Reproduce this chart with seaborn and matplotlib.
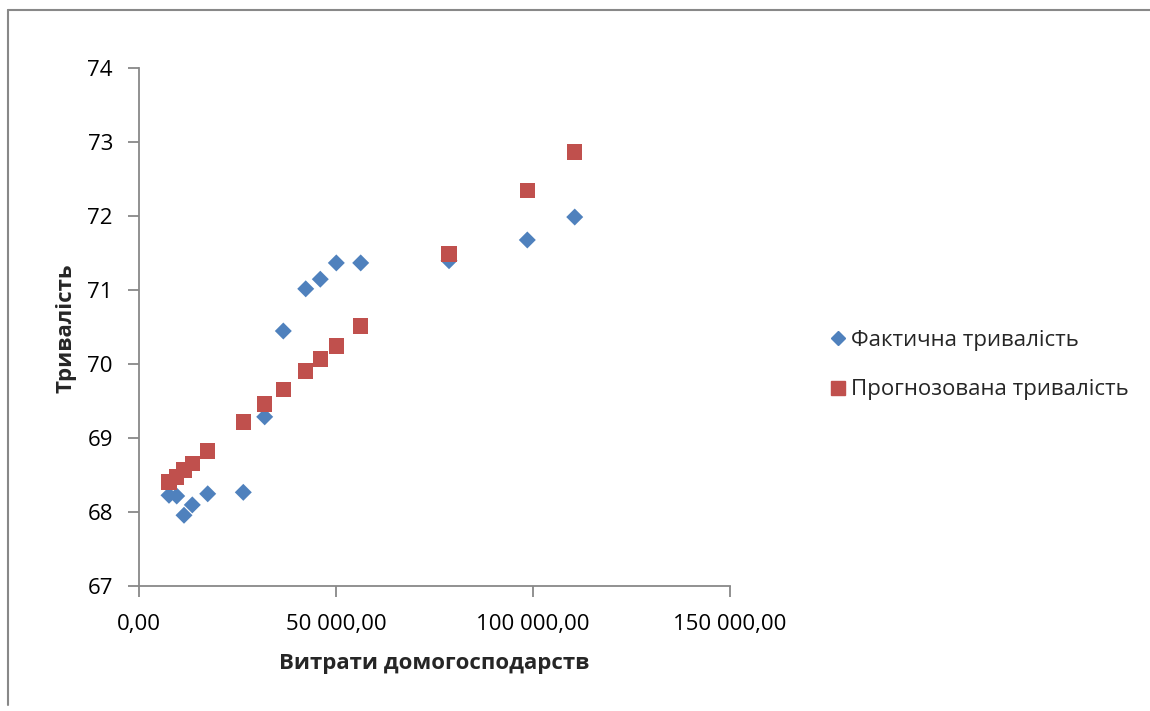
import matplotlib
matplotlib.use('Agg')
import matplotlib.pyplot as plt
import matplotlib.ticker as mticker
from matplotlib.lines import Line2D
import seaborn as sns
import pandas as pd

# household spending
spend = [7540, 9500, 11350, 13460, 17370, 26410, 31840, 36570, 42260, 45960,
         50030, 56220, 78650, 98530, 110570]
# actual life expectancy
actual = [68.23, 68.22, 67.96, 68.10, 68.25, 68.27, 69.29, 70.45, 71.02, 71.15,
          71.37, 71.37, 71.40, 71.68, 71.99]
# predicted life expectancy
predicted = [68.41, 68.48, 68.57, 68.66, 68.83, 69.22, 69.46, 69.66, 69.91, 70.07,
             70.25, 70.52, 71.49, 72.35, 72.87]

lbl_actual = 'Фактична тривалість'
lbl_pred = 'Прогнозована тривалість'

df = pd.DataFrame({'spend': spend, 'actual': actual, 'predicted': predicted})

sns.set_style('white')
plt.rcParams['font.family'] = ['Open Sans', 'DejaVu Sans']

blue = '#4F81BD'
red = '#C0504D'
gray = '#888888'
fs = 16

fig = plt.figure(figsize=(11.5, 7.11), dpi=100)
ax = fig.add_axes([139.3/1150, 1-586.3/711, 590.7/1150, 518/711])

sns.scatterplot(data=df, x='spend', y='actual', marker='D', s=75, color=blue,
                edgecolor='none', ax=ax, zorder=2)
sns.scatterplot(data=df, x='spend', y='predicted', marker='s', s=125, color=red,
                edgecolor='none', ax=ax, zorder=3)

ax.set_xlim(0, 150000)
ax.set_ylim(67, 74)
ax.set_xticks([0, 50000, 100000, 150000])
ax.set_yticks(range(67, 75))
ax.xaxis.set_major_formatter(mticker.FuncFormatter(
    lambda v, p: f'{v:,.2f}'.replace(',', ' ').replace('.', ',')))

for side in ['top', 'right']:
    ax.spines[side].set_visible(False)
for side in ['left', 'bottom']:
    ax.spines[side].set_color(gray)
    ax.spines[side].set_linewidth(1.3)
ax.tick_params(axis='both', direction='out', length=8, width=1.3, color=gray,
               labelsize=fs, labelcolor='black', left=True, bottom=True)
ax.tick_params(axis='x', pad=12)
ax.tick_params(axis='y', pad=11)

ax.set_xlabel('')
ax.set_ylabel('')
fig.text(434/1150, 1-663/711, 'Витрати домогосподарств', ha='center', va='center',
         fontsize=fs, fontweight='bold')
fig.text(66/1150, 1-328/711, 'Тривалість', ha='center', va='center', rotation=90,
         fontsize=fs, fontweight='bold')

handles = [Line2D([], [], marker='D', color=blue, ls='none', markersize=7.5),
           Line2D([], [], marker='s', color=red, ls='none', markersize=10)]
fig.legend(handles, [lbl_actual, lbl_pred], loc='center left',
           bbox_to_anchor=(811/1150, 1-365/711), frameon=False, fontsize=fs,
           handlelength=0.6, handletextpad=0.3, labelspacing=1.3)

# outer chart frame
fig.add_artist(Line2D([8/1150, 8/1150], [1-705/711, 1-10/711], color=gray, lw=1.5))
fig.add_artist(Line2D([8/1150, 1], [1-10/711, 1-10/711], color=gray, lw=1.5))

fig.savefig('out.png', dpi=100)
